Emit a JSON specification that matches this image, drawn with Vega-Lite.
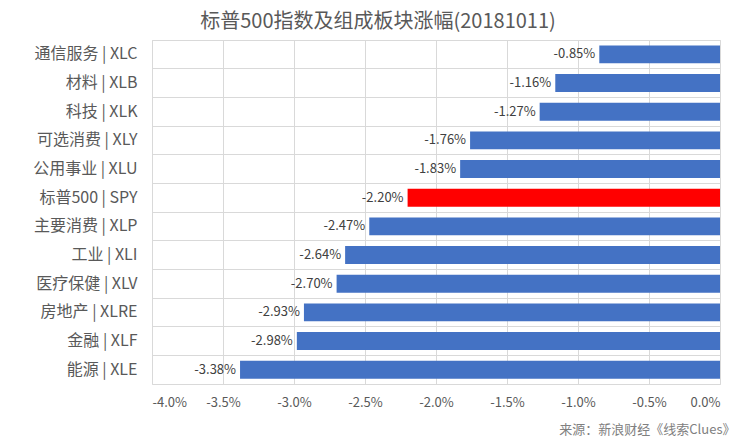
{
  "$schema": "https://vega.github.io/schema/vega-lite/v6.json",
  "width": 568,
  "height": 344,
  "autosize": {"type": "none"},
  "padding": {"left": 152, "top": 40, "right": 35, "bottom": 61},
  "background": "white",
  "title": {
    "text": "标普500指数及组成板块涨幅(20181011)",
    "fontSize": 20,
    "font": "Noto Sans CJK SC",
    "fontWeight": "normal",
    "color": "#595959",
    "anchor": "middle",
    "dx": -58,
    "offset": 8
  },
  "data": {
    "values": [
      {"name": "通信服务 | XLC", "value": -0.0085, "type": "sector"},
      {"name": "材料 | XLB", "value": -0.0116, "type": "sector"},
      {"name": "科技 | XLK", "value": -0.0127, "type": "sector"},
      {"name": "可选消费 | XLY", "value": -0.0176, "type": "sector"},
      {"name": "公用事业 | XLU", "value": -0.0183, "type": "sector"},
      {"name": "标普500 | SPY", "value": -0.022, "type": "index"},
      {"name": "主要消费 | XLP", "value": -0.0247, "type": "sector"},
      {"name": "工业 | XLI", "value": -0.0264, "type": "sector"},
      {"name": "医疗保健 | XLV", "value": -0.027, "type": "sector"},
      {"name": "房地产 | XLRE", "value": -0.0293, "type": "sector"},
      {"name": "金融 | XLF", "value": -0.0298, "type": "sector"},
      {"name": "能源 | XLE", "value": -0.0338, "type": "sector"}
    ]
  },
  "encoding": {
    "y": {
      "field": "name",
      "type": "nominal",
      "sort": null,
      "scale": {"paddingInner": 0, "paddingOuter": 0},
      "axis": {
        "title": null,
        "ticks": false,
        "domain": false,
        "grid": true,
        "bandPosition": 0,
        "gridColor": "#d9d9d9",
        "labelFont": "Noto Sans CJK SC",
        "labelFontSize": 16,
        "labelColor": "#595959",
        "labelPadding": 15
      }
    },
    "x": {
      "field": "value",
      "type": "quantitative",
      "scale": {"domain": [-0.04, 0], "nice": false},
      "axis": {
        "values": [-0.04, -0.035, -0.03, -0.025, -0.02, -0.015, -0.01, -0.005, 0],
        "format": ".1%",
        "grid": true,
        "ticks": false,
        "domain": false,
        "gridColor": "#d9d9d9",
        "labelFont": "Noto Sans CJK SC",
        "labelFontSize": 13,
        "labelColor": "#595959",
        "labelPadding": 12,
        "title": "来源：新浪财经《线索Clues》",
        "titleFont": "Noto Sans CJK SC",
        "titleFontSize": 13,
        "titleFontWeight": "normal",
        "titleColor": "#808080",
        "titleAnchor": "end",
        "titleAlign": "right",
        "titleBaseline": "alphabetic",
        "titleX": 583,
        "titleY": 49
      }
    }
  },
  "layer": [
    {
      "mark": {"type": "bar", "height": {"band": 0.625}},
      "encoding": {
        "color": {
          "field": "type",
          "type": "nominal",
          "scale": {"domain": ["sector", "index"], "range": ["#4472C4", "#FF0000"]},
          "legend": null
        }
      }
    },
    {
      "mark": {
        "type": "text",
        "align": "right",
        "baseline": "middle",
        "dx": -4,
        "font": "Noto Sans CJK SC",
        "fontSize": 13,
        "color": "#404040"
      },
      "encoding": {
        "text": {"field": "value", "type": "quantitative", "format": ".2%"}
      }
    }
  ],
  "config": {
    "view": {"stroke": "#d9d9d9"},
    "locale": {
      "number": {
        "decimal": ".",
        "thousands": ",",
        "grouping": [3],
        "currency": ["$", ""],
        "minus": "-"
      }
    }
  }
}
